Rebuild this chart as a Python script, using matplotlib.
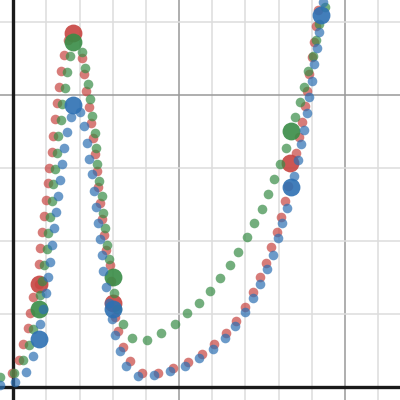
import numpy as np
import matplotlib.pyplot as plt

# точки трёх рядов (красный, зелёный, синий)
red_x = [-0.04, 0.17, 0.29, 0.44, 0.50, 0.59, 0.77, 0.77, 0.80, 0.87, 0.93, 0.99, 1.05, 1.08, 1.17, 1.20,
         1.26, 1.32, 1.38, 1.44, 1.53, 1.65, 2.07, 2.13, 2.19, 2.28, 2.34, 2.40, 2.46, 2.52, 2.55, 2.61,
         2.67, 2.73, 2.80, 2.92, 2.95, 3.07, 3.16, 3.31, 3.52, 3.88, 4.36, 4.81, 5.27, 5.69, 6.05, 6.41,
         6.71, 6.98, 7.23, 7.44, 7.62, 7.77, 7.95, 8.07, 8.19, 8.28, 8.52, 8.61, 8.70, 8.79, 8.85, 8.91,
         9.00, 9.07, 9.13, 9.19]
red_y = [0.098, 0.187, 0.296, 0.406, 0.508, 0.618, 0.707, 0.843, 0.953, 1.062, 1.172, 1.281, 1.398, 1.500,
         1.610, 1.719, 1.835, 1.945, 2.054, 2.163, 2.273, 2.376, 2.252, 2.143, 2.027, 1.917, 1.808, 1.705,
         1.596, 1.479, 1.370, 1.261, 1.151, 1.042, 0.939, 0.837, 0.727, 0.481, 0.385, 0.276, 0.180, 0.098,
         0.098, 0.132, 0.174, 0.228, 0.296, 0.372, 0.453, 0.549, 0.652, 0.754, 0.850, 0.960, 1.062, 1.165,
         1.274, 1.377, 1.603, 1.712, 1.815, 1.924, 2.027, 2.143, 2.259, 2.362, 2.472, 2.580]
red_big_x = [0.77, 1.80, 3.01, 8.34]
red_big_y = [0.707, 2.424, 0.577, 1.535]

green_x = [-0.40, 0.02, 0.29, 0.47, 0.59, 0.80, 0.87, 0.93, 1.02, 1.05, 1.11, 1.17, 1.20, 1.26, 1.32, 1.35,
           1.44, 1.47, 1.56, 1.62, 1.71, 2.07, 2.16, 2.25, 2.31, 2.37, 2.46, 2.49, 2.52, 2.58, 2.67, 2.70,
           2.77, 2.83, 2.89, 3.04, 3.13, 3.31, 3.58, 4.03, 4.45, 4.87, 5.24, 5.60, 5.93, 6.23, 6.53, 6.77,
           7.04, 7.26, 7.50, 7.68, 7.86, 8.04, 8.22, 8.49, 8.64, 8.76, 8.88, 9.04, 9.13, 9.22, 9.40]
green_y = [0.070, 0.098, 0.187, 0.289, 0.399, 0.631, 0.727, 0.837, 0.946, 1.055, 1.165, 1.274, 1.391, 1.493,
           1.603, 1.719, 1.828, 1.938, 2.047, 2.157, 2.266, 2.294, 2.184, 2.075, 1.972, 1.856, 1.739, 1.637,
           1.528, 1.411, 1.308, 1.192, 1.090, 0.973, 0.878, 0.645, 0.536, 0.433, 0.337, 0.324, 0.372, 0.433,
           0.508, 0.577, 0.659, 0.748, 0.837, 0.925, 1.028, 1.124, 1.220, 1.322, 1.425, 1.528, 1.637, 1.849,
           1.951, 2.054, 2.163, 2.266, 2.376, 2.485, 2.601]
green_big_x = [0.77, 1.80, 3.01, 8.37]
green_big_y = [0.536, 2.362, 0.754, 1.753]

blue_x = [-0.40, 0.05, 0.38, 0.59, 0.80, 0.90, 0.99, 1.05, 1.11, 1.17, 1.23, 1.29, 1.35, 1.41, 1.47, 1.53,
          1.62, 1.74, 2.01, 2.13, 2.22, 2.28, 2.37, 2.43, 2.49, 2.55, 2.61, 2.67, 2.70, 2.80, 2.89, 2.98,
          3.07, 3.22, 3.40, 3.76, 4.24, 4.72, 5.18, 5.60, 6.02, 6.38, 6.68, 6.98, 7.23, 7.44, 7.65, 7.83,
          7.98, 8.10, 8.25, 8.46, 8.58, 8.67, 8.76, 8.85, 8.91, 9.00, 9.07, 9.16, 9.22, 9.34]
blue_y = [0.016, 0.036, 0.105, 0.214, 0.433, 0.536, 0.645, 0.754, 0.857, 0.973, 1.090, 1.199, 1.308, 1.418,
          1.528, 1.637, 1.746, 1.849, 1.883, 1.787, 1.671, 1.562, 1.459, 1.343, 1.233, 1.124, 1.014, 0.905,
          0.795, 0.686, 0.577, 0.467, 0.358, 0.248, 0.146, 0.077, 0.084, 0.111, 0.146, 0.201, 0.262, 0.337,
          0.419, 0.515, 0.611, 0.707, 0.809, 0.905, 1.021, 1.124, 1.227, 1.445, 1.555, 1.665, 1.760, 1.876,
          1.986, 2.095, 2.211, 2.321, 2.430, 2.636]
blue_big_x = [0.77, 1.80, 3.01, 8.37, 9.28]
blue_big_y = [0.330, 1.931, 0.536, 1.370, 2.546]

series = [
    (red_x, red_y, red_big_x, red_big_y, '#c74440'),
    (green_x, green_y, green_big_x, green_big_y, '#388c46'),
    (blue_x, blue_y, blue_big_x, blue_big_y, '#2d70b3'),
]

fig = plt.figure(figsize=(4, 4), dpi=100)
ax = fig.add_axes([0, 0, 1, 1])

# сетка
ax.set_xticks([5, 10])
ax.set_xticks(np.arange(1, 12), minor=True)
ax.set_yticks([2])
ax.set_yticks([0.5, 1.0, 1.5, 2.5], minor=True)
ax.grid(True, which='minor', color='#dddddd', lw=1.1)
ax.grid(True, which='major', color='#999999', lw=1.1)
ax.tick_params(which='both', length=0, labelbottom=False, labelleft=False)
for s in ax.spines.values():
    s.set_visible(False)
ax.axhline(0, color='#1a1a1a', lw=2.4)
ax.axvline(0, color='#1a1a1a', lw=2.4)

for x, y, bx, by, c in series:
    ax.scatter(x, y, s=48, color=c, alpha=0.7, linewidths=0, zorder=3)
    ax.scatter(bx, by, s=165, color=c, alpha=0.9, linewidths=0, zorder=3)

ax.set_xlim(-0.40, 11.66)
ax.set_ylim(-0.087, 2.649)

plt.savefig('out.png', dpi=100)
